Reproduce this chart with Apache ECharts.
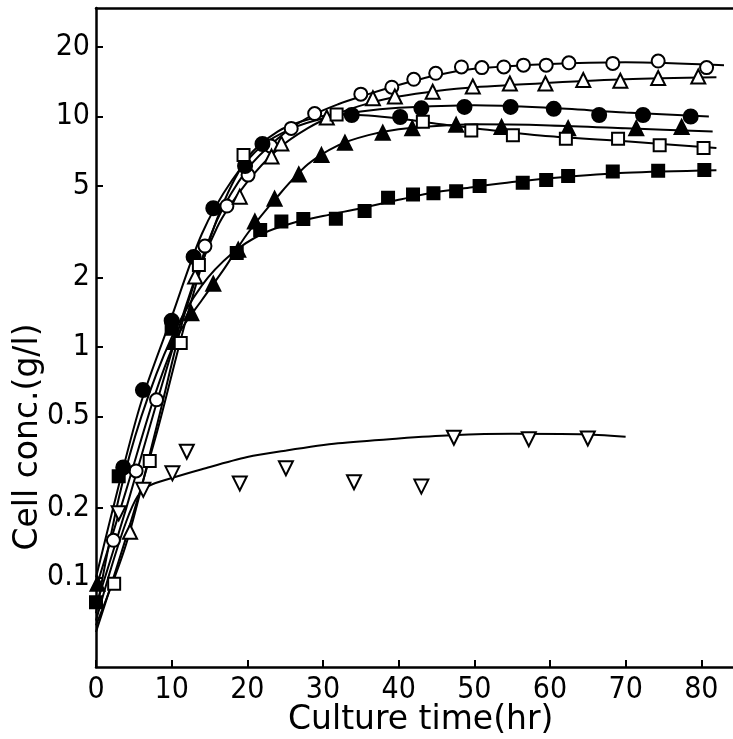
<!DOCTYPE html>
<html><head><meta charset="utf-8">
<script src="https://cdn.jsdelivr.net/npm/echarts@6/dist/echarts.min.js"></script>
<style>html,body{margin:0;padding:0;background:#fff}#c{width:733px;height:739px}</style>
</head><body><div id="c"></div>
<script>
const xTicks = [0, 10, 20, 30, 40, 50, 60, 70, 80];
const yTicks = [0.1, 0.2, 0.5, 1, 2, 5, 10, 20];
const xTitle = 'Culture time(hr)';
const yTitle = 'Cell conc.(g/l)';

// open circles
const openCirclePts = [[2.3,0.145],[5.3,0.29],[8,0.59],[14.4,2.74],[17.3,4.09],[20.1,5.57],[23.1,7.44],[25.8,8.88],[28.9,10.3],[35,12.5],[39.1,13.4],[42,14.5],[44.9,15.4],[48.3,16.4],[51,16.3],[53.9,16.4],[56.5,16.7],[59.5,16.7],[62.5,17.1],[68.3,17.0],[74.3,17.4],[80.7,16.3]];
const openCircleFit = [[0,0.075],[4,0.2],[8,0.57],[12,1.55],[16,3.55],[20,5.9],[24,8.0],[28,9.9],[32,11.3],[36,12.5],[40,13.7],[45,15.1],[50,16.1],[60,16.9],[70,17.2],[83,16.7]];
// open triangles
const openTriPts = [[4.5,0.158],[13.1,2.02],[19,4.49],[23.2,6.7],[24.5,7.63],[30.5,9.9],[36.6,12.0],[39.5,12.2],[44.5,12.8],[49.8,13.5],[54.7,13.9],[59.4,13.9],[64.4,14.4],[69.3,14.3],[74.3,14.7],[79.6,14.9]];
const openTriFit = [[0,0.062],[4,0.14],[8,0.45],[12,1.5],[16,3.3],[20,5.2],[24,7.2],[28,8.9],[32,10.3],[36,11.4],[40,12.2],[45,12.9],[50,13.4],[60,14.0],[70,14.5],[82,14.8]];
// filled circles
const filledCirclePts = [[3.6,0.30],[6.2,0.65],[10,1.3],[12.9,2.46],[15.5,4.0],[19.7,6.1],[22,7.6],[33.8,10.15],[40.2,9.95],[43,10.85],[48.7,11.0],[54.8,11.0],[60.5,10.8],[66.5,10.15],[72.3,10.15],[78.6,10.0]];
const filledCircleFit = [[0,0.1],[3,0.25],[6,0.58],[10,1.35],[14,3.1],[18,5.3],[22,7.5],[26,8.9],[30,9.8],[35,10.5],[40,10.9],[50,11.2],[60,10.9],[70,10.4],[81,10.0]];
// filled triangles
const filledTriPts = [[0.2,0.094],[10.4,1.05],[12.6,1.40],[15.5,1.88],[18.8,2.64],[21,3.5],[23.6,4.4],[26.8,5.6],[29.8,6.8],[32.9,7.7],[37.9,8.5],[41.8,8.9],[47.6,9.2],[53.6,9.0],[62.4,8.9],[71.4,8.9],[77.4,9.0]];
const filledTriFit = [[0,0.09],[4,0.24],[8,0.65],[11,1.15],[14,1.6],[17,2.2],[20,3.1],[24,4.5],[28,6.2],[32,7.5],[36,8.3],[40,8.8],[45,9.1],[50,9.25],[60,9.15],[70,8.9],[81.5,8.6]];
// open squares
const openSquarePts = [[2.4,0.094],[7.1,0.32],[11.2,1.04],[13.6,2.27],[19.5,6.8],[31.8,10.2],[43.2,9.5],[49.6,8.7],[55.1,8.3],[62.1,8.0],[69.0,8.0],[74.5,7.5],[80.3,7.3]];
const openSquareFit = [[0,0.058],[4,0.15],[8,0.42],[12,1.35],[16,3.6],[20,6.6],[24,8.6],[28,9.7],[32,10.2],[36,10.1],[40,9.8],[45,9.3],[50,8.9],[60,8.2],[70,7.8],[82,7.3]];
// filled squares
const filledSquarePts = [[0,0.078],[3.0,0.275],[10,1.2],[18.6,2.56],[21.7,3.22],[24.5,3.5],[27.4,3.59],[31.7,3.6],[35.5,3.89],[38.6,4.44],[41.9,4.59],[44.6,4.64],[47.6,4.74],[50.7,5.0],[56.4,5.16],[59.5,5.3],[62.4,5.52],[68.3,5.77],[74.3,5.82],[80.4,5.86]];
const filledSquareFit = [[0,0.07],[3,0.22],[6,0.5],[10,1.1],[14,1.85],[18,2.55],[22,3.1],[26,3.45],[30,3.7],[35,4.0],[40,4.35],[45,4.7],[50,4.95],[55,5.2],[60,5.4],[70,5.7],[82,5.85]];
// open inverted triangles
const invTriPts = [[3,0.19],[6.25,0.24],[10.1,0.283],[12,0.351],[19,0.256],[25.1,0.298],[34.1,0.259],[43,0.248],[47.3,0.404],[57.2,0.398],[65,0.401]];
const invTriFit = [[0,0.065],[2,0.11],[4,0.175],[5.5,0.225],[7,0.25],[10,0.27],[14,0.295],[20,0.333],[25,0.355],[32,0.382],[40,0.401],[47,0.414],[55,0.42],[64,0.418],[70,0.408]];

const numFont = '"DejaVu Sans Condensed", "DejaVu Sans", sans-serif';
const titleFont = '"DejaVu Sans", sans-serif';

function fit(data) {
  return { type: 'line', data, smooth: 0.3, showSymbol: false, symbol: 'none',
    lineStyle: { color: '#000', width: 2 }, z: 2, silent: true, animation: false };
}
function pts(data, symbol, filled, size, rotate) {
  return { type: 'scatter', data, symbol, symbolSize: size, symbolRotate: rotate || 0,
    itemStyle: { color: filled ? '#000' : '#fff', borderColor: '#000', borderWidth: 2, opacity: 1 },
    z: 5, silent: true, animation: false };
}

const chart = echarts.init(document.getElementById('c'), null, { renderer: 'canvas' });
chart.setOption({
  backgroundColor: '#fff',
  animation: false,
  grid: { left: 96, top: 8, right: 0, bottom: 72 },
  xAxis: [{
    type: 'value', min: 0, max: 84.19, interval: 10,
    axisLine: { lineStyle: { color: '#000', width: 2.5 } },
    axisTick: { inside: true, length: 7, lineStyle: { color: '#000', width: 2 }, customValues: xTicks },
    axisLabel: { color: '#000', fontSize: 30, fontFamily: numFont, margin: 8, customValues: xTicks,
      formatter: v => String(v) },
    splitLine: { show: false }
  }, {
    type: 'value', position: 'top', min: 0, max: 84.19,
    axisLine: { show: true, onZero: false, lineStyle: { color: '#000', width: 2.5 } },
    axisTick: { show: false }, axisLabel: { show: false }, splitLine: { show: false }
  }],
  yAxis: {
    type: 'log', logBase: 10, min: 0.0409, max: 29.56,
    axisLine: { show: true, lineStyle: { color: '#000', width: 2.5 } },
    axisTick: { show: true, inside: true, length: 7, lineStyle: { color: '#000', width: 2 }, customValues: yTicks },
    axisLabel: { color: '#000', fontSize: 30, fontFamily: numFont, margin: 6, customValues: yTicks,
      formatter: v => String(+(+v).toPrecision(3)) },
    splitLine: { show: false }, minorTick: { show: false }
  },
  graphic: [
    { type: 'text', left: 288, top: 704, style: { text: xTitle, font: '33px ' + titleFont, fill: '#000' } },
    { type: 'text', x: 28, y: 437, rotation: Math.PI / 2,
      style: { text: yTitle, font: '33px ' + titleFont, fill: '#000', align: 'center', verticalAlign: 'middle' } }
  ],
  series: [
    fit(openCircleFit), fit(openTriFit), fit(filledCircleFit), fit(filledTriFit),
    fit(openSquareFit), fit(filledSquareFit), fit(invTriFit),
    pts(openCirclePts, 'circle', false, 13),
    pts(openTriPts, 'triangle', false, 14),
    pts(filledCirclePts, 'circle', true, 14),
    pts(filledTriPts, 'triangle', true, 14),
    pts(openSquarePts, 'rect', false, 12),
    pts(filledSquarePts, 'rect', true, 12),
    pts(invTriPts, 'triangle', false, 14, 180)
  ]
});
</script></body></html>
